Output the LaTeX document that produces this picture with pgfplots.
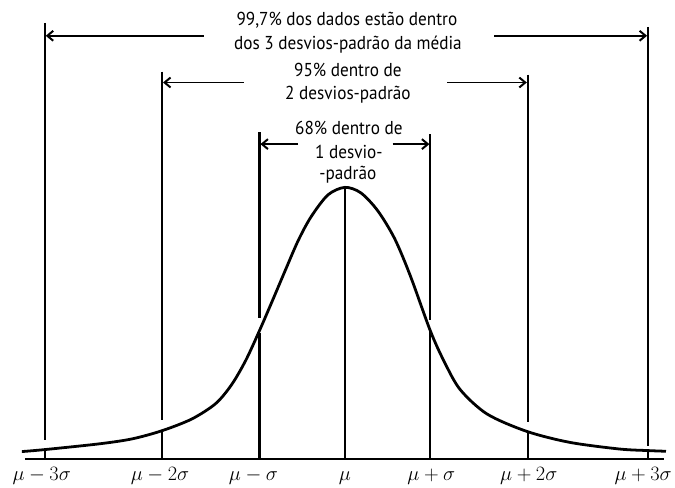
\RequirePackage{fix-cm}
\documentclass[border=0pt]{standalone}
\usepackage{fontspec}
\setmainfont[FakeStretch=0.92]{PT Sans}
\usepackage{pgfplots}
\pgfplotsset{compat=1.18}
\usetikzlibrary{arrows.meta}

\newcommand{\txt}{\fontsize{18.8}{23}\selectfont}
\newcommand{\lbl}{\fontsize{20.5}{22}\selectfont}

\begin{document}
\begin{tikzpicture}
\begin{axis}[
  width=643pt, height=462pt, scale only axis,
  xmin=25, xmax=668, ymin=0, ymax=462,
  clip=false, hide axis,
  vline/.style={line width=2.2pt, black, forget plot},
  arr/.style={line width=2pt, black, forget plot, -{Straight Barb[length=6pt,width=10pt]}},
]
% keeps the page as large as the reference
\addplot[draw=none, forget plot] coordinates {(0,-27) (675,-27) (675,462) (0,462) (0,-27)};

% base line
\addplot[line width=2.5pt, black, forget plot] coordinates {(25,0) (668,0)};

% the bell curve
\addplot[line width=2.8pt, smooth, black] coordinates {
(22,7.7) (45,9.7) (100,15.5) (133,20.5) (163,28.7) (193,40.5) (217,56)
(233,75) (247,99) (260,127) (273,157) (287,190) (300,220) (313,244)
(330,266) (347,273.5) (363,268) (380,250) (397,222) (413,184) (433,129)
(447,98) (463,70) (490,45.5) (530,28) (573,17) (623,10.3) (652,8.7) (670,8)
};

% vertical lines: upper part and the part under the curve
\addplot[vline] coordinates {(45,439) (45,19)};
\addplot[vline] coordinates {(45,10) (45,0)};
\addplot[vline] coordinates {(652,435) (652,13)};
\addplot[vline] coordinates {(652,9) (652,0)};
\addplot[vline] coordinates {(163,390) (163,39)};
\addplot[vline] coordinates {(163,29) (163,0)};
\addplot[vline] coordinates {(531,387) (531,37)};
\addplot[vline] coordinates {(531,28) (531,0)};
\addplot[vline] coordinates {(261,329) (261,142)};
\addplot[vline] coordinates {(261,127) (261,0)};
\addplot[vline] coordinates {(433,327) (433,140)};
\addplot[vline] coordinates {(433,129) (433,0)};
\addplot[vline] coordinates {(347,273.5) (347,0)};

% arrows
\addplot[arr] coordinates {(205,426) (46,426)};
\addplot[arr] coordinates {(497,426) (651,426)};
\addplot[arr] coordinates {(245,379) (164,379)};
\addplot[arr] coordinates {(450,379) (530,379)};
\addplot[arr] coordinates {(300,317) (262,317)};
\addplot[arr] coordinates {(395,317) (432,317)};

\node[anchor=base, font=\txt] at (axis cs:349,436) {99,7\% dos dados estão dentro};
\node[anchor=base, font=\txt] at (axis cs:350,412) {dos 3 desvios-padrão da média};
\node[anchor=base, font=\txt] at (axis cs:350,385) {95\% dentro de};
\node[anchor=base, font=\txt] at (axis cs:350,362) {2 desvios-padrão};
\node[anchor=base, font=\txt] at (axis cs:351,327) {68\% dentro de};
\node[anchor=base, font=\txt] at (axis cs:351,303) {1 desvio-};
\node[anchor=base, font=\txt] at (axis cs:350,281) {-padrão};

% labels under the base line
\node[anchor=base, font=\lbl] at (axis cs:42,-21) {$\mu-3\sigma$};
\node[anchor=base, font=\lbl] at (axis cs:161,-21) {$\mu-2\sigma$};
\node[anchor=base, font=\lbl] at (axis cs:255,-21) {$\mu-\sigma$};
\node[anchor=base, font=\lbl] at (axis cs:347,-21) {$\mu$};
\node[anchor=base, font=\lbl] at (axis cs:434,-21) {$\mu+\sigma$};
\node[anchor=base, font=\lbl] at (axis cs:532,-21) {$\mu+2\sigma$};
\node[anchor=base, font=\lbl] at (axis cs:647,-21) {$\mu+3\sigma$};
\end{axis}
\end{tikzpicture}
\end{document}
